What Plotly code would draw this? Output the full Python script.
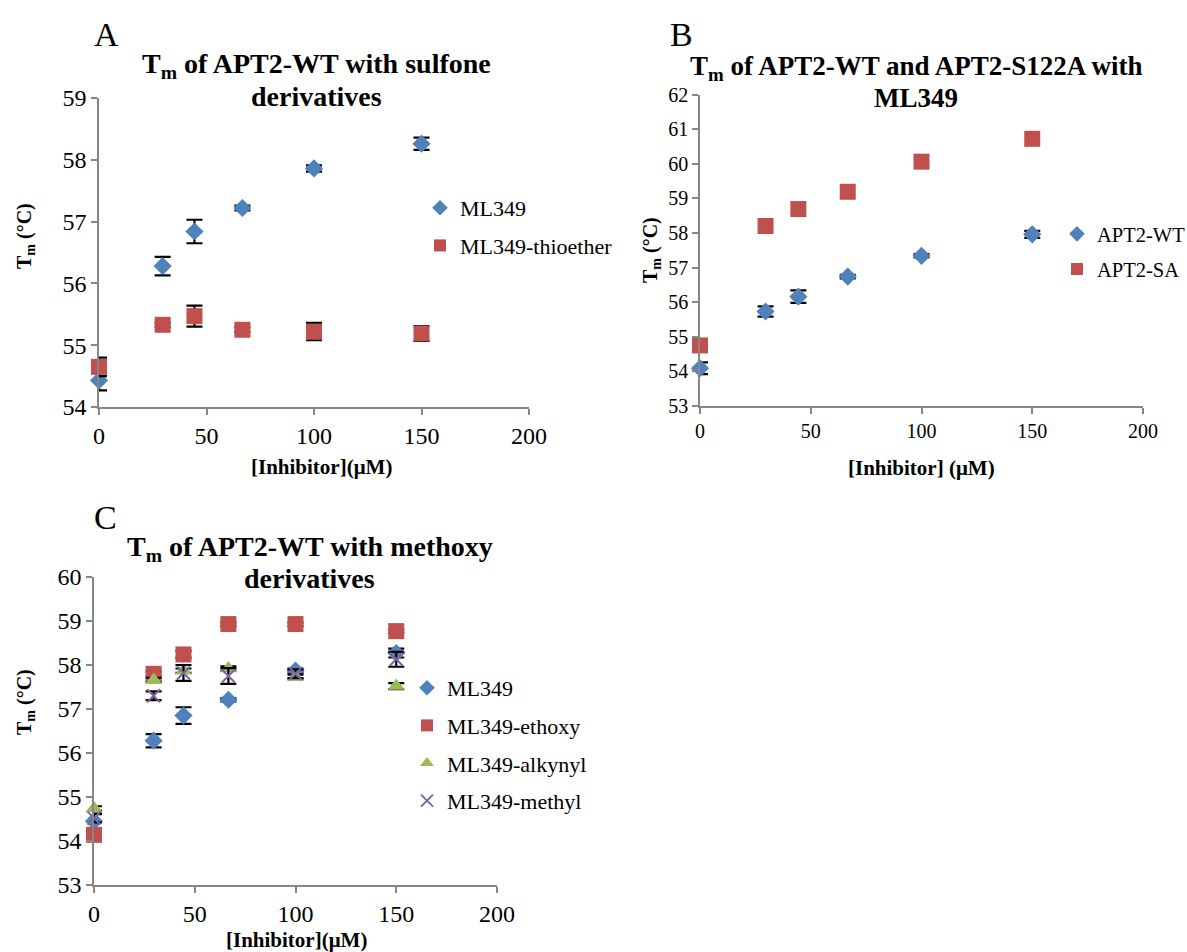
import plotly.graph_objects as go

# ---------------- data ----------------
conc = [0, 29.6, 44.4, 66.7, 100, 150]

a_ml349 = [54.43, 56.28, 56.84, 57.22, 57.86, 58.26]
a_ml349_err = [0.16, 0.15, 0.19, 0.04, 0.05, 0.10]
a_thio = [54.65, 55.33, 55.47, 55.25, 55.22, 55.19]
a_thio_err = [0.15, 0.03, 0.17, 0.04, 0.14, 0.12]

b_wt = [54.09, 55.73, 56.16, 56.74, 57.34, 57.96]
b_wt_err = [0.17, 0.15, 0.18, 0.05, 0.05, 0.10]
b_sa = [54.75, 58.20, 58.69, 59.19, 60.06, 60.72]

c_ml349 = [54.45, 56.28, 56.85, 57.21, 57.87, 58.27]
c_ml349_err = [0.16, 0.15, 0.19, 0.04, 0.05, 0.10]
c_ethoxy = [54.14, 57.80, 58.24, 58.93, 58.93, 58.77]
c_ethoxy_err = [0.05, 0.05, 0.08, 0.04, 0.04, 0.04]
c_alkynyl = [54.74, 57.66, 57.87, 57.92, 57.73, 57.52]
c_alkynyl_err = [0.05, 0.05, 0.05, 0.05, 0.05, 0.07]
c_methyl = [54.52, 57.30, 57.82, 57.75, 57.80, 58.13]
c_methyl_err = [0.10, 0.10, 0.18, 0.18, 0.10, 0.17]

names_a = ["ML349", "ML349-thioether"]
names_b = ["APT2-WT", "APT2-SA"]
names_c = ["ML349", "ML349-ethoxy", "ML349-alkynyl", "ML349-methyl"]

title_a = ["T<sub>m</sub> of APT2-WT with sulfone", "derivatives"]
title_b = ["T<sub>m</sub> of APT2-WT and APT2-S122A with", "ML349"]
title_c = ["T<sub>m</sub> of APT2-WT with methoxy", "derivatives"]
xtitle_a = "[Inhibitor](μM)"
xtitle_b = "[Inhibitor] (μM)"
xtitle_c = "[Inhibitor](μM)"
ytitle = "T<sub>m</sub> (°C)"

# ---------------- styling ----------------
W, H = 1187, 952
BLUE, RED, GREEN, PURPLE = "#4F81BD", "#C0504D", "#9BBB59", "#8064A2"
AXC = "#868686"
SERIF = "Liberation Serif, Times New Roman, serif"


def px_x(p):
    return p / W


def px_y(p):
    return 1 - p / H


def err(arr):
    return dict(type="data", array=arr, color="black", thickness=2.2, width=8, visible=True)


fig = go.Figure()

sym_diam = dict(symbol="diamond", size=14, color=BLUE)
sym_sq = dict(symbol="square", size=16, color=RED)
sym_tri = dict(symbol="triangle-up", size=15, color=GREEN)
sym_x = dict(symbol="x-thin", size=13, color=PURPLE, line=dict(color=PURPLE, width=2))

# Panel A
fig.add_trace(go.Scatter(x=conc, y=a_ml349, mode="markers", name=names_a[0], marker=sym_diam,
                         error_y=err(a_ml349_err), xaxis="x", yaxis="y", legend="legend",
                         legendgroup="a1", cliponaxis=False))
fig.add_trace(go.Scatter(x=conc, y=a_thio, mode="markers", name=names_a[1], marker=sym_sq,
                         error_y=err(a_thio_err), xaxis="x", yaxis="y", legend="legend",
                         legendgroup="a2", cliponaxis=False))
# Panel B
fig.add_trace(go.Scatter(x=conc, y=b_wt, mode="markers", name=names_b[0], marker=sym_diam,
                         error_y=err(b_wt_err), xaxis="x2", yaxis="y2", legend="legend2",
                         legendgroup="b1", cliponaxis=False))
fig.add_trace(go.Scatter(x=conc, y=b_sa, mode="markers", name=names_b[1], marker=sym_sq,
                         xaxis="x2", yaxis="y2", legend="legend2",
                         legendgroup="b2", cliponaxis=False))
# Panel C
for vals, errs, nm, mk, g in [
    (c_ml349, c_ml349_err, names_c[0], sym_diam, "c1"),
    (c_ethoxy, c_ethoxy_err, names_c[1], sym_sq, "c2"),
    (c_alkynyl, c_alkynyl_err, names_c[2], sym_tri, "c3"),
    (c_methyl, c_methyl_err, names_c[3], sym_x, "c4"),
]:
    fig.add_trace(go.Scatter(x=conc, y=vals, mode="markers", name=nm, marker=mk,
                             error_y=err(errs), xaxis="x3", yaxis="y3", legend="legend3",
                             legendgroup=g, cliponaxis=False))

axis_common = dict(showgrid=False, zeroline=False, showline=True, linecolor=AXC, linewidth=1.5,
                   ticks="outside", ticklen=6, tickwidth=1.5, tickcolor=AXC, mirror=False,
                   automargin=False)

tick_big = dict(family=SERIF, size=24, color="black")
tick_small = dict(family=SERIF, size=20, color="black")

fig.update_layout(
    template="none",
    width=W, height=H, margin=dict(l=0, r=0, t=0, b=0, autoexpand=False),
    paper_bgcolor="white", plot_bgcolor="white", showlegend=True,
    xaxis=dict(domain=[px_x(99), px_x(529)], range=[0, 200], dtick=50, anchor="y",
               tickfont=tick_big, **axis_common),
    yaxis=dict(domain=[px_y(407), px_y(98)], range=[54, 59], dtick=1, anchor="x",
               tickfont=tick_big, **axis_common),
    xaxis2=dict(domain=[px_x(700), px_x(1143)], range=[0, 200], dtick=50, anchor="y2",
                tickfont=tick_small, **axis_common),
    yaxis2=dict(domain=[px_y(406), px_y(94.5)], range=[53, 62], dtick=1, anchor="x2",
                tickfont=tick_small, **axis_common),
    xaxis3=dict(domain=[px_x(94), px_x(497)], range=[0, 200], dtick=50, anchor="y3",
                tickfont=tick_big, **axis_common),
    yaxis3=dict(domain=[px_y(885), px_y(577)], range=[53, 60], dtick=1, anchor="x3",
                tickfont=tick_big, **axis_common),
)

leg_common = dict(bgcolor="rgba(0,0,0,0)", borderwidth=0, xanchor="left",
                  yanchor="top", itemsizing="constant", traceorder="grouped")
fig.update_layout(
    legend=dict(x=px_x(420), y=px_y(187), tracegroupgap=6,
                font=dict(family=SERIF, size=22, color="black"), **leg_common),
    legend2=dict(x=px_x(1057), y=px_y(214), tracegroupgap=5.5,
                 font=dict(family=SERIF, size=20.5, color="black"), **leg_common),
    legend3=dict(x=px_x(407), y=px_y(667), tracegroupgap=6,
                 font=dict(family=SERIF, size=22, color="black"), **leg_common),
)

ann = []
for lines, cx, ys, fs in [(title_a, 316, (66, 97), 28), (title_b, 916, (68, 98), 27),
                          (title_c, 310, (548, 578), 28)]:
    for t, yy in zip(lines, ys):
        ann.append(dict(text="<b>%s</b>" % t, x=px_x(cx), y=px_y(yy), xref="paper", yref="paper",
                        xanchor="center", yanchor="middle", showarrow=False,
                        font=dict(family=SERIF, size=fs, color="black")))

letter_font = dict(family=SERIF, size=34, color="black")
for letter, cx, cy in [("A", 106, 35), ("B", 681, 35), ("C", 105, 517)]:
    ann.append(dict(text=letter, x=px_x(cx), y=px_y(cy), xref="paper", yref="paper",
                    xanchor="center", yanchor="middle", showarrow=False, font=letter_font))

axt_font = dict(family=SERIF, size=21, color="black")
for t, cx, cy in [(xtitle_a, 321, 467), (xtitle_b, 921, 468), (xtitle_c, 297, 940)]:
    ann.append(dict(text="<b>%s</b>" % t, x=px_x(cx), y=px_y(cy), xref="paper", yref="paper",
                    xanchor="center", yanchor="middle", showarrow=False, font=axt_font))

yt_font = dict(family=SERIF, size=20, color="black")
for cx, cy in [(25, 236), (652, 250), (25, 702)]:
    ann.append(dict(text="<b>%s</b>" % ytitle, x=px_x(cx), y=px_y(cy), xref="paper", yref="paper",
                    xanchor="center", yanchor="middle", showarrow=False, textangle=-90,
                    font=yt_font))

fig.update_layout(annotations=ann)

fig.write_html("out.html", config={"displayModeBar": False},
               post_script="document.body.style.margin='0';")
